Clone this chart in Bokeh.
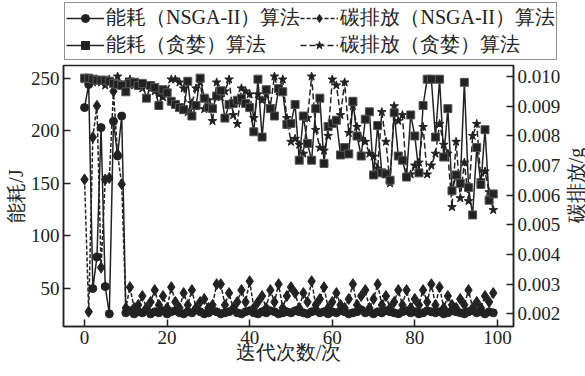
import math
from bokeh.plotting import figure
from bokeh.layouts import column, row
from bokeh.models import (Range1d, LinearAxis, FixedTicker, NumeralTickFormatter,
                          Legend, LegendItem, Label)
from bokeh.embed import file_html
from bokeh.resources import INLINE

iterations = list(range(100))

energy_nsga = [222, 244, 50, 80, 203, 52, 26, 209, 176, 214,
               27, 29, 26, 28, 27, 30, 26, 28, 27, 29,
               26, 28, 29, 27, 26, 28, 27, 30, 28, 26,
               27, 29, 28, 26, 27, 28, 30, 27, 26, 28,
               29, 27, 26, 28, 27, 29, 28, 26, 27, 28,
               27, 29, 28, 27, 26, 28, 29, 27, 28, 26,
               28, 27, 29, 28, 26, 27, 28, 30, 27, 28,
               26, 28, 27, 29, 28, 27, 26, 28, 29, 27,
               28, 26, 27, 29, 28, 27, 28, 26, 27, 29,
               28, 27, 26, 28, 29, 27, 28, 26, 28, 27]

carbon_nsga = [0.00653, 0.00207, 0.00795, 0.00901, 0.00356, 0.00653, 0.00658, 0.0095, 0.00738, 0.00637,
               0.0022, 0.0029, 0.0022, 0.0023, 0.0026, 0.0022, 0.0024, 0.0028, 0.0023, 0.0026,
               0.0022, 0.0029, 0.0024, 0.0022, 0.0027, 0.0023, 0.0028, 0.0022, 0.0024, 0.0025,
               0.0022, 0.0023, 0.0030, 0.0030, 0.0023, 0.0027, 0.0022, 0.0024, 0.0028, 0.0024,
               0.0031, 0.0022, 0.0024, 0.0026, 0.0022, 0.0028, 0.0024, 0.0030, 0.0022, 0.0026,
               0.0029, 0.0027, 0.0022, 0.0027, 0.0024, 0.0031, 0.0023, 0.0025, 0.0029, 0.0022,
               0.0024, 0.0027, 0.0023, 0.0022, 0.0025, 0.0030, 0.0023, 0.0026, 0.0028, 0.0022,
               0.0025, 0.0030, 0.0023, 0.0026, 0.0022, 0.0024, 0.0028, 0.0023, 0.0028, 0.0022,
               0.0025, 0.0023, 0.0028, 0.0024, 0.0030, 0.0023, 0.0029, 0.0022, 0.0026, 0.0023,
               0.0022, 0.0025, 0.0023, 0.0028, 0.0022, 0.0024, 0.0022, 0.0026, 0.0024, 0.0027]

energy_greedy = [250, 250, 249, 248, 248, 248, 247, 245, 244, 243,
                 237, 245, 246, 243, 245, 231, 243, 241, 224, 239,
                 236, 228, 225, 222, 220, 247, 214, 224, 250, 231,
                 222, 221, 233, 238, 212, 225, 226, 229, 231, 226,
                 222, 199, 249, 194, 239, 221, 214, 240, 237, 206,
                 207, 225, 172, 214, 188, 172, 221, 231, 169, 204,
                 207, 210, 177, 184, 178, 228, 195, 176, 211, 218,
                 158, 205, 160, 159, 153, 217, 176, 172, 156, 215,
                 195, 160, 224, 249, 249, 194, 249, 175, 221, 143,
                 158, 150, 246, 146, 120, 184, 149, 201, 134, 140]

carbon_greedy = [0.0099, 0.0099, 0.0098, 0.0099, 0.0098, 0.0097, 0.0099, 0.0098, 0.0100, 0.0097,
                 0.0098, 0.0099, 0.0097, 0.0098, 0.0096, 0.0097, 0.0096, 0.0095, 0.0094, 0.0093,
                 0.0095, 0.0099, 0.0099, 0.0098, 0.0096, 0.0088, 0.0091, 0.0096, 0.0098, 0.0089,
                 0.0092, 0.0085, 0.0098, 0.0093, 0.0095, 0.0099, 0.0087, 0.0084, 0.0096, 0.0095,
                 0.0094, 0.0086, 0.0094, 0.0092, 0.0094, 0.0090, 0.0100, 0.0095, 0.0099, 0.0086,
                 0.0078, 0.0079, 0.0077, 0.0074, 0.0086, 0.0100, 0.0082, 0.0076, 0.0075, 0.0080,
                 0.0099, 0.0097, 0.0087, 0.0098, 0.0081, 0.0090, 0.0083, 0.0079, 0.0078, 0.0074,
                 0.0073, 0.0069, 0.0088, 0.0078, 0.0064, 0.0090, 0.0085, 0.0087, 0.0066, 0.0067,
                 0.0070, 0.0071, 0.0083, 0.0067, 0.0070, 0.0074, 0.0084, 0.0077, 0.0074, 0.0056,
                 0.0078, 0.0059, 0.0071, 0.0058, 0.0080, 0.0084, 0.0065, 0.0068, 0.0061, 0.0055]

x_ticks = [0, 20, 40, 60, 80, 100]
energy_ticks = [50, 100, 150, 200, 250]
carbon_ticks = [0.002, 0.003, 0.004, 0.005, 0.006, 0.007, 0.008, 0.009, 0.010]

labels = ["能耗（NSGA-II）算法", "碳排放（NSGA-II）算法", "能耗（贪婪）算法", "碳排放（贪婪）算法"]
x_label = "迭代次数/次"
y_label = "能耗/J"
y2_label = "碳排放/g"

INK = "#222222"
FONT = "Liberation Serif"

def no_align(fig):
    if "frame_align" in fig.properties():
        fig.frame_align = False

# ---------------- main plot ----------------
p = figure(width=565, height=312, x_range=Range1d(-5.1, 103.9), y_range=Range1d(14, 262),
           output_backend="svg", toolbar_location=None,
           min_border_left=63, min_border_right=52, min_border_top=1, min_border_bottom=50)
no_align(p)
p.extra_y_ranges = {"c": Range1d(0.001573, 0.01037)}
p.xgrid.visible = False
p.ygrid.visible = False
p.outline_line_color = INK
p.outline_line_width = 1.5
p.background_fill_color = "white"

p.line(iterations, energy_nsga, line_color=INK, line_width=1.5)
p.scatter(iterations, energy_nsga, marker="circle", size=8, fill_color=INK, line_color=INK)
p.line(iterations, carbon_nsga, y_range_name="c", line_color=INK, line_width=1.5, line_dash="4 2")
p.scatter(iterations, carbon_nsga, y_range_name="c", marker="diamond", size=11, fill_color=INK, line_color=INK)
p.line(iterations, carbon_greedy, y_range_name="c", line_color=INK, line_width=1.5, line_dash="6 3")
p.scatter(iterations, carbon_greedy, y_range_name="c", marker="star", size=9, fill_color=INK, line_color=INK)
p.line(iterations, energy_greedy, line_color=INK, line_width=1.5)
p.scatter(iterations, energy_greedy, marker="square", size=8, fill_color=INK, line_color="#555555")

def style_axis(ax):
    ax.axis_line_color = INK
    ax.axis_line_width = 1.5
    ax.major_tick_line_color = INK
    ax.major_tick_line_width = 1.5
    ax.major_tick_in = 7
    ax.major_tick_out = 0
    ax.minor_tick_in = 0
    ax.minor_tick_out = 0
    ax.major_label_text_font = FONT
    ax.major_label_text_font_size = "19px"
    ax.major_label_text_color = INK
    ax.axis_label_text_font = FONT
    ax.axis_label_text_font_size = "20px"
    ax.axis_label_text_font_style = "normal"
    ax.axis_label_text_color = INK
    ax.major_label_standoff = 4
    ax.axis_label_standoff = -6

xa = p.xaxis[0]
xa.ticker = FixedTicker(ticks=x_ticks)
xa.axis_label = x_label
style_axis(xa)

ya = p.yaxis[0]
ya.ticker = FixedTicker(ticks=energy_ticks)
ya.axis_label = y_label
style_axis(ya)
ya.axis_label_standoff = 1

ya2 = LinearAxis(y_range_name="c", ticker=FixedTicker(ticks=carbon_ticks),
                 formatter=NumeralTickFormatter(format="0.000"))
style_axis(ya2)
p.add_layout(ya2, "right")

# ---------------- right axis title strip ----------------
rf = figure(width=20, height=312, x_range=Range1d(0, 1), y_range=Range1d(0, 1),
            output_backend="svg", toolbar_location=None, min_border=0,
            x_axis_location=None, y_axis_location=None)
no_align(rf)
rf.xgrid.visible = False
rf.ygrid.visible = False
rf.outline_line_color = None
rf.add_layout(Label(x=10, y=191, x_units="screen", y_units="screen", text=y2_label,
                    angle=math.pi / 2, text_align="center", text_baseline="middle",
                    text_font=FONT, text_font_size="20px", text_color=INK))

# ---------------- legend strip ----------------
lf = figure(width=585, height=64, x_range=Range1d(0, 1), y_range=Range1d(0, 1),
            output_backend="svg", toolbar_location=None, min_border=0,
            x_axis_location=None, y_axis_location=None)
no_align(lf)
lf.xgrid.visible = False
lf.ygrid.visible = False
lf.outline_line_color = None

series = [energy_nsga, carbon_nsga, energy_greedy, carbon_greedy]
markers = [("circle", 8, "solid"), ("diamond", 11, "4 2"), ("square", 8, "solid"), ("star", 9, "6 3")]
items = []
for lab, ys, (mk, sz, dash) in zip(labels, series, markers):
    lr = lf.line(iterations[:1], ys[:1], line_color=INK, line_width=1.5, line_dash=dash, visible=False)
    sr = lf.scatter(iterations[:1], ys[:1], marker=mk, size=sz, fill_color=INK, line_color=INK, visible=False)
    items.append(LegendItem(label=lab, renderers=[lr, sr]))

legend = Legend(items=items, orientation="horizontal", ncols=2, location=(64, 4),
                border_line_color=INK, border_line_width=1.5, padding=1, spacing=0,
                margin=0, label_standoff=2, glyph_width=38, glyph_height=20,
                label_text_font=FONT, label_text_font_size="20px", label_text_color=INK,
                background_fill_alpha=1.0, inactive_fill_alpha=0.0)
lf.add_layout(legend, "center")

layout = column(lf, row(p, rf, spacing=0), spacing=0)
open("out.html", "w").write(file_html(layout, INLINE))
